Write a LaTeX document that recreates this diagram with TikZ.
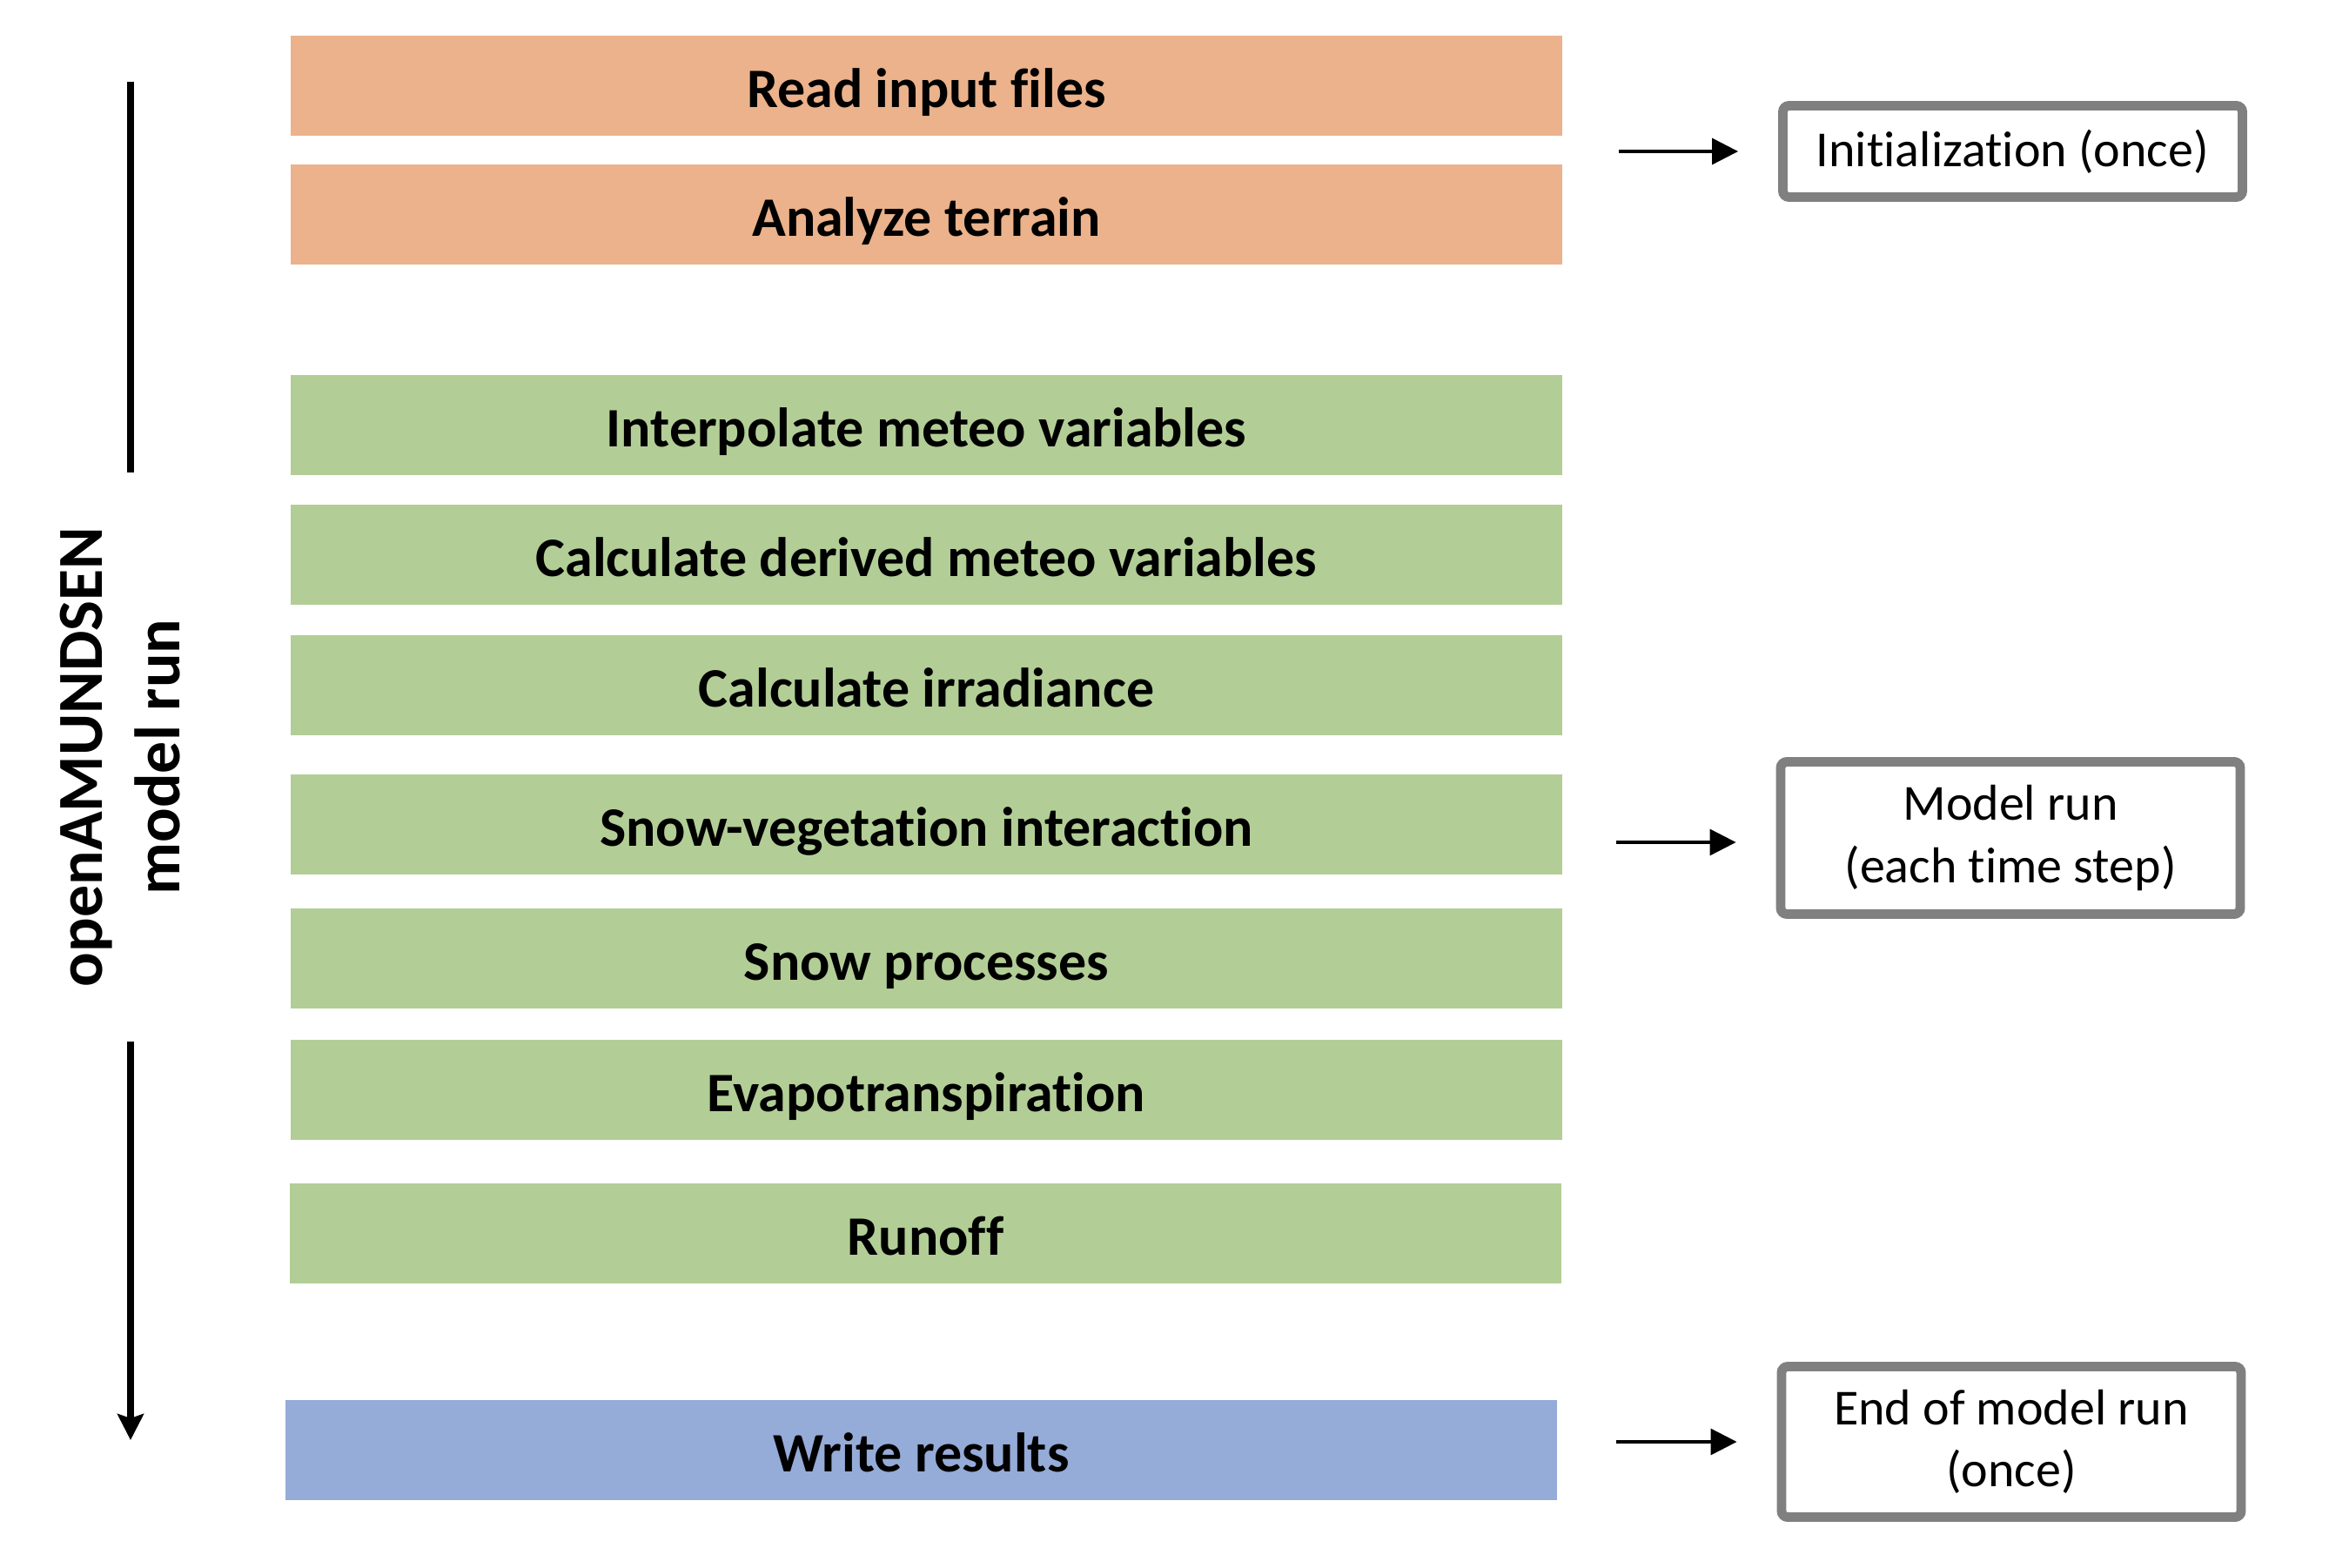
\documentclass[tikz,border=0pt]{standalone}
\usepackage{fontspec}
\setmainfont[Ligatures=NoCommon]{Carlito}
\usetikzlibrary{arrows.meta, positioning}
\definecolor{initcol}{HTML}{EBB28B}
\definecolor{runcol}{HTML}{B2CE96}
\definecolor{outcol}{HTML}{95ABD8}
\definecolor{framecol}{HTML}{808080}
\tikzset{%
>={Triangle[width=3mm,length=3mm]},
  % Specifications for style of nodes:
            stepbox/.style = {rectangle, minimum width=14.61cm, minimum
                            height=1.15cm, inner sep=0pt, text height=0.55cm,
                            text depth=0.05cm,
                            font=\fontsize{18.2}{22}\selectfont\bfseries},
            initbox/.style = {stepbox, fill=initcol},
            runbox/.style = {stepbox, fill=runcol},
            outbox/.style = {stepbox, fill=outcol},
            phase/.style = {rectangle, draw=framecol, line width=3.1pt,
                            rounded corners=2pt, fill=white, minimum width=5.28cm,
                            align=center, font=\fontsize{16.5}{20.4}\selectfont},
            pointer/.style = {->, line width=0.9pt, shorten >=0.46cm}
}
\begin{document}
\begin{tikzpicture}

                \useasboundingbox (0,0) rectangle (26.76,-18.02);

                \node[initbox] (read) at (10.645,-0.99) {Read input files};
                \node[initbox] (terrain) at (10.645,-2.47) {Analyze terrain};
                \node[runbox] (interp) at (10.645,-4.89) {Interpolate meteo variables};
                \node[runbox] (derived) at (10.645,-6.375) {Calculate derived meteo variables};
                \node[runbox] (irrad) at (10.645,-7.875) {Calculate irradiance};
                \node[runbox] (snowveg) at (10.645,-9.47) {Snow-vegetation interaction};
                \node[runbox] (snow) at (10.645,-11.015) {Snow processes};
                \node[runbox] (evap) at (10.645,-12.52) {Evapotranspiration};
                \node[runbox] (runoff) at (10.635,-14.17) {Runoff};
                \node[outbox] (write) at (10.585,-16.665) {Write results};

                \node[phase, minimum height=1.05cm] (init) at (23.125,-1.74) {Initialization (once)};
                \node[phase, minimum height=1.75cm] (run) at (23.10,-9.63) {Model run\\(each time step)};
                \node[phase, minimum height=1.73cm] (fin) at (23.11,-16.57) {End of model run\\(once)};

                \coordinate (a1) at (18.6,-1.74);
                \coordinate (a2) at (18.57,-9.68);
                \coordinate (a3) at (18.57,-16.57);
                \draw[pointer] (a1) -- (a1 -| init.west);
                \draw[pointer] (a2) -- (a2 -| run.west);
                \draw[pointer] (a3) -- (a3 -| fin.west);

                \node[rotate=90, align=center, inner xsep=0.62cm, inner ysep=0pt,
                      font=\fontsize{21}{25.3}\selectfont\bfseries] (model) at (1.38,-8.70)
                      {openAMUNDSEN\\model run};
                \coordinate (ltop) at (1.5,-0.94);
                \coordinate (lbot) at (1.5,-16.55);
                \draw[line width=2.2pt] (ltop) -- (ltop |- model.east);
                \draw[line width=2.2pt, -{Stealth[length=3mm,width=3mm,inset=0.5mm]}]
                      (ltop |- model.west) -- (lbot);

            \end{tikzpicture}
\end{document}
